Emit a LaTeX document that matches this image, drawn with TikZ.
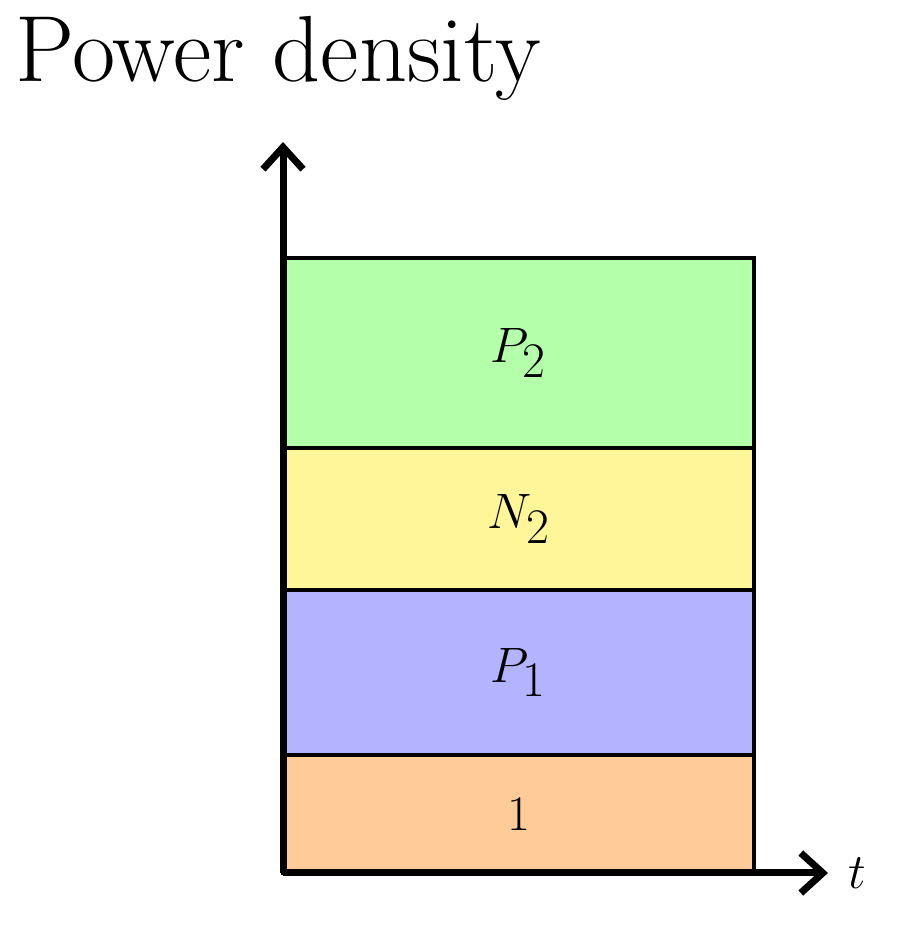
\documentclass[tikz,border=0pt]{standalone}
\usetikzlibrary{arrows.meta, positioning}
\definecolor{layerone}{RGB}{255,204,153}
\definecolor{layerpone}{RGB}{179,179,255}
\definecolor{layernt}{RGB}{255,245,153}
\definecolor{layerpt}{RGB}{179,255,170}
\tikzset{
        layer/.style={rectangle, draw, line width=1.6pt, anchor=south west, outer sep=0pt, minimum width=235.5pt, inner sep=0pt, font=\fontsize{52}{58}\selectfont},
        axis/.style={-{Straight Barb[length=11pt, width=20pt, line width=3.5pt]}, line width=3.5pt},
    }
\begin{document}
\begin{tikzpicture}[x=0.5pt, y=0.5pt]
        \useasboundingbox (0,0) rectangle (914,928);
        % Stacked layers
        \node[layer, fill=layerone, minimum height=59pt] (one) at (283,55) {$1$};
        \node[layer, fill=layerpone, minimum height=82.5pt] (pone) at (one.north west) {$P_1$};
        \node[layer, fill=layernt, minimum height=71pt] (ntwo) at (pone.north west) {$N_2$};
        \node[layer, fill=layerpt, minimum height=95pt] (ptwo) at (ntwo.north west) {$P_2$};

        % Axes
        \coordinate (origin) at (283,55);
        \coordinate (ytop) at (283,786);
        \coordinate (xend) at (828,55);
        \draw[axis] (origin) -- (ytop);
        \draw[axis] (origin) -- (xend);

        % Labels
        \node[anchor=base west, inner sep=0pt, font=\fontsize{47}{54}\selectfont] (ylabel) at (15,846) {Power density};
        \node[right=10pt of xend, inner sep=0pt, font=\fontsize{54}{60}\selectfont] (xlabel) {$t$};
    \end{tikzpicture}
\end{document}
